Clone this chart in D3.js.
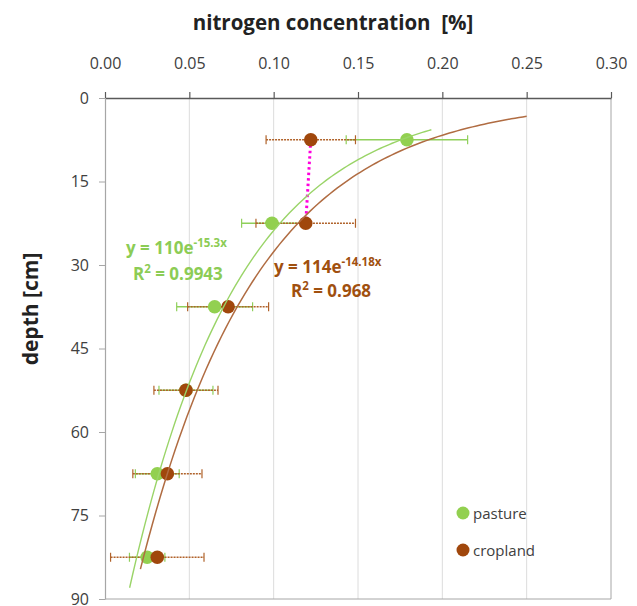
<!DOCTYPE html>
<html>
<head>
<meta charset="utf-8">
<script src="https://cdn.jsdelivr.net/npm/d3@7"></script>
<style>
  body { margin: 0; background: #fff; }
  text { font-family: "Open Sans", Lato, sans-serif; }
</style>
</head>
<body>
<svg></svg>
<script>
// data
var depths = [7.5, 22.5, 37.5, 52.5, 67.5, 82.5];
var pastureN = [0.179, 0.099, 0.065, 0.048, 0.031, 0.025];
var pastureErr = [0.036, 0.018, 0.0225, 0.016, 0.013, 0.0105];
var croplandN = [0.122, 0.119, 0.073, 0.048, 0.037, 0.031];
var croplandErr = [0.0265, 0.0295, 0.024, 0.019, 0.0205, 0.0277];
var xTicks = [0, 0.05, 0.10, 0.15, 0.20, 0.25, 0.30];
var yTicks = [0, 15, 30, 45, 60, 75, 90];
// trendlines  y = a * exp(-b x)
var pastureFit = {a: 110, b: 15.3, from: 0.0146, to: 0.1935, r2: "0.9943"};
var croplandFit = {a: 114, b: 14.18, from: 0.021, to: 0.25, r2: "0.968"};

var w = 637, h = 606;
var plotL = 105, plotR = 611, plotT = 98, plotB = 599;
var green = "#92d050", brown = "#a0470c";

var svg = d3.select("svg").attr("width", w).attr("height", h);

var x = d3.scaleLinear().domain([0, 0.30]).range([plotL, plotR]);
var y = d3.scaleLinear().domain([0, 90]).range([plotT, plotB]);

// vertical gridlines
svg.append("g").selectAll("line")
    .data(xTicks.slice(1, -1))
    .enter().append("line")
    .attr("x1", d => x(d)).attr("x2", d => x(d))
    .attr("y1", plotT).attr("y2", plotB)
    .attr("stroke", "#dcdcdc").attr("stroke-width", 1);

// plot border right & bottom
svg.append("path")
    .attr("d", "M" + plotR + "," + plotT + "V" + plotB + "H" + plotL)
    .attr("fill", "none").attr("stroke", "#a6a6a6").attr("stroke-width", 1);

// top axis
var xAxis = svg.append("g")
    .attr("transform", "translate(0," + plotT + ")")
    .call(d3.axisTop(x).tickValues(xTicks).tickFormat(d3.format(".2f")).tickSizeInner(6).tickSizeOuter(0).tickPadding(23));
xAxis.select(".domain").attr("stroke", "#595959").attr("stroke-width", 1.5);
xAxis.selectAll(".tick line").attr("stroke", "#595959").attr("stroke-width", 1.2);
xAxis.selectAll("text").attr("font-size", 16).attr("fill", "#404040").style("font-family", "'Open Sans', sans-serif");

// left axis
var yAxis = svg.append("g")
    .attr("transform", "translate(" + plotL + ",0)")
    .call(d3.axisLeft(y).tickValues(yTicks).tickSizeInner(6).tickSizeOuter(0).tickPadding(10));
yAxis.select(".domain").attr("stroke", "#a6a6a6").attr("stroke-width", 1.2);
yAxis.selectAll(".tick line").attr("stroke", "#a6a6a6");
yAxis.selectAll("text").attr("font-size", 16).attr("fill", "#404040").style("font-family", "'Open Sans', sans-serif");

// axis titles
svg.append("text")
    .attr("x", 333).attr("y", 30)
    .attr("text-anchor", "middle")
    .attr("font-size", 20.5).attr("font-weight", "bold").attr("fill", "#222")
    .attr("xml:space", "preserve")
    .text("nitrogen concentration  [%]");
svg.append("text")
    .attr("transform", "translate(38,309) rotate(-90)")
    .attr("text-anchor", "middle")
    .attr("font-size", 21).attr("font-weight", "bold").attr("fill", "#222")
    .text("depth [cm]");

// error bars
function errorBars(vals, errs, color, dash, width) {
    var g = svg.append("g");
    vals.forEach((v, i) => {
        var cy = y(depths[i]);
        g.append("line")
            .attr("x1", x(v - errs[i])).attr("x2", x(v + errs[i]))
            .attr("y1", cy).attr("y2", cy)
            .attr("stroke", color).attr("stroke-width", width)
            .attr("stroke-dasharray", dash);
        [v - errs[i], v + errs[i]].forEach(e => {
            g.append("line")
                .attr("x1", x(e)).attr("x2", x(e))
                .attr("y1", cy - 4.5).attr("y2", cy + 4.5)
                .attr("stroke", color).attr("stroke-width", 1.2);
        });
    });
}
errorBars(pastureN, pastureErr, "#8fcf5a", null, 1.3);
errorBars(croplandN, croplandErr, "#b0622a", "2,1", 1.5);

// magenta dotted connector between first two cropland points
svg.append("line")
    .attr("x1", x(croplandN[0])).attr("y1", y(depths[0]))
    .attr("x2", x(croplandN[1])).attr("y2", y(depths[1]))
    .attr("stroke", "#ff00dd").attr("stroke-width", 3)
    .attr("stroke-dasharray", "2.5,3");

// points
function points(vals, color) {
    svg.append("g").selectAll("circle")
        .data(vals)
        .enter().append("circle")
        .attr("cx", d => x(d))
        .attr("cy", (d, i) => y(depths[i]))
        .attr("r", 6.8)
        .attr("fill", color);
}
points(pastureN, green);
points(croplandN, brown);

// trendlines
function trend(fit, color, width) {
    var xs = d3.range(0, 101).map(i => fit.from + (fit.to - fit.from) * i / 100);
    var line = d3.line().x(d => x(d)).y(d => y(fit.a * Math.exp(-fit.b * d)));
    svg.append("path")
        .datum(xs)
        .attr("d", line)
        .attr("fill", "none")
        .attr("stroke", color).attr("stroke-width", width);
}
trend(pastureFit, "#9ad468", 1.4);
trend(croplandFit, "#b06c42", 1.5);

// equations
function equation(fit, color, ex, ey, rx, ry) {
    var t = svg.append("text").attr("x", ex).attr("y", ey)
        .attr("font-size", 17).attr("font-weight", "bold").attr("fill", color);
    t.append("tspan").text("y = " + fit.a + "e");
    t.append("tspan").attr("dy", -7).attr("font-size", 11.5).text("-" + fit.b + "x");
    var r = svg.append("text").attr("x", rx).attr("y", ry)
        .attr("font-size", 17).attr("font-weight", "bold").attr("fill", color);
    r.append("tspan").text("R");
    r.append("tspan").attr("dy", -7).attr("font-size", 11.5).text("2");
    r.append("tspan").attr("dy", 7).text(" = " + fit.r2);
}
equation(pastureFit, "#8ccc55", 126, 254, 133, 280);
equation(croplandFit, "#a0500f", 274, 273, 291, 297);

// legend
var legend = [["pasture", green], ["cropland", brown]];
var lg = svg.append("g").selectAll("g").data(legend).enter().append("g")
    .attr("transform", (d, i) => "translate(463," + (513 + i * 37) + ")");
lg.append("circle").attr("r", 6.5).attr("fill", d => d[1]);
lg.append("text").attr("x", 10).attr("y", 5.5)
    .attr("font-size", 15).attr("fill", "#404040")
    .text(d => d[0]);
</script>
</body>
</html>
